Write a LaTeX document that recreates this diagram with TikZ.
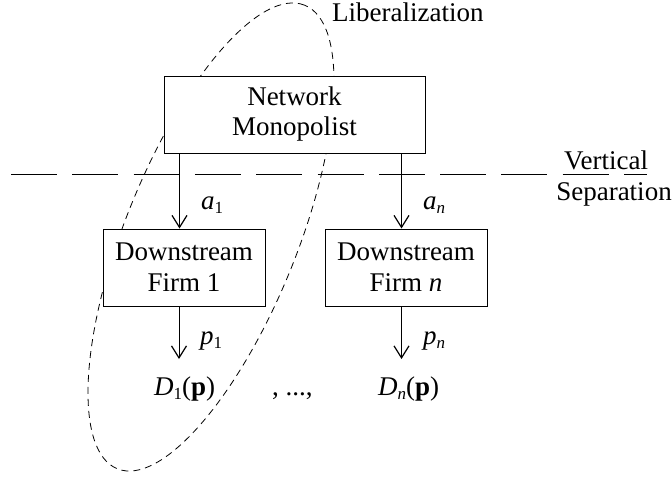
\documentclass[tikz,border=0pt]{standalone}
\usepackage{fontspec}
\setmainfont{Liberation Serif}
\usetikzlibrary{arrows.meta}
% lowered, smaller index text (subscripts in the labels)
\newcommand{\lowidx}[1]{\raisebox{-4.5pt}{\fontsize{17}{17}\selectfont #1}}
\begin{document}
\begin{tikzpicture}[x=1pt,y=-1pt,
  every node/.style={font=\fontsize{27}{30}\selectfont},
  box/.style={draw, line width=1pt, fill=white, align=center, inner sep=0pt},
  flow/.style={line width=1pt, -{Straight Barb[length=12pt,width=15pt,line width=1.2pt]}},
  lbl/.style={inner sep=0pt},
  cut/.style={line width=1pt, dash pattern=on 46pt off 15.3pt},
  zone/.style={line width=0.8pt, dash pattern=on 7pt off 5pt}]
\useasboundingbox (0,0) rectangle (672,477);

% liberalization region
\coordinate (zc) at (211,237);
\draw[zone, rotate around={68:(zc)}] (zc) ellipse [x radius=250pt, y radius=86pt];
\node[lbl, anchor=base west] (lib) at (332,21) {Liberalization};

% vertical separation line
\coordinate (sepL) at (11,174);
\coordinate (sepR) at (647,174);
\draw[cut] (sepL) -- (sepR);
\node[lbl, anchor=base] (vert) at (606,169) {Vertical};
\node[lbl, anchor=base] (sepr) at (614,200) {Separation};

% firms
\node[box, minimum width=261pt, minimum height=77pt] (net) at (294.5,114.5) {Network\\Monopolist};
\node[box, minimum width=162pt, minimum height=77pt, font=\fontsize{27}{31}\selectfont] (f1) at (184,267.5) {Downstream\\Firm 1};
\node[box, minimum width=162pt, minimum height=77pt, font=\fontsize{27}{31}\selectfont] (fn) at (406,267.5) {Downstream\\Firm \textit{n}};

% arrow columns
\coordinate (c1) at (179.5,0);
\coordinate (cn) at (401.5,0);
\coordinate (e1) at (179,359);
\coordinate (en) at (401.5,359);

\draw[flow] (net.south -| c1) -- (f1.north -| c1);
\draw[flow] (net.south -| cn) -- (fn.north -| cn);
\draw[flow] (f1.south -| e1) -- (e1);
\draw[flow] (fn.south -| en) -- (en);

% labels
\node[lbl, anchor=base west] (la1) at (201,209) {\textit{a}\lowidx{1}};
\node[lbl, anchor=base west] (lan) at (423,209) {\textit{a}\lowidx{\textit{n}}};
\node[lbl, anchor=base west] (lp1) at (200,344) {\textit{p}\lowidx{1}};
\node[lbl, anchor=base west] (lpn) at (423,344) {\textit{p}\lowidx{\textit{n}}};

\node[lbl, anchor=base west] (d1) at (154,395) {\textit{D}\lowidx{1}(\textbf{p})};
\node[lbl, anchor=base west] (dots) at (272,395) {, ...,};
\node[lbl, anchor=base west] (dn) at (378,395) {\textit{D}\lowidx{\textit{n}}(\textbf{p})};
\end{tikzpicture}
\end{document}
